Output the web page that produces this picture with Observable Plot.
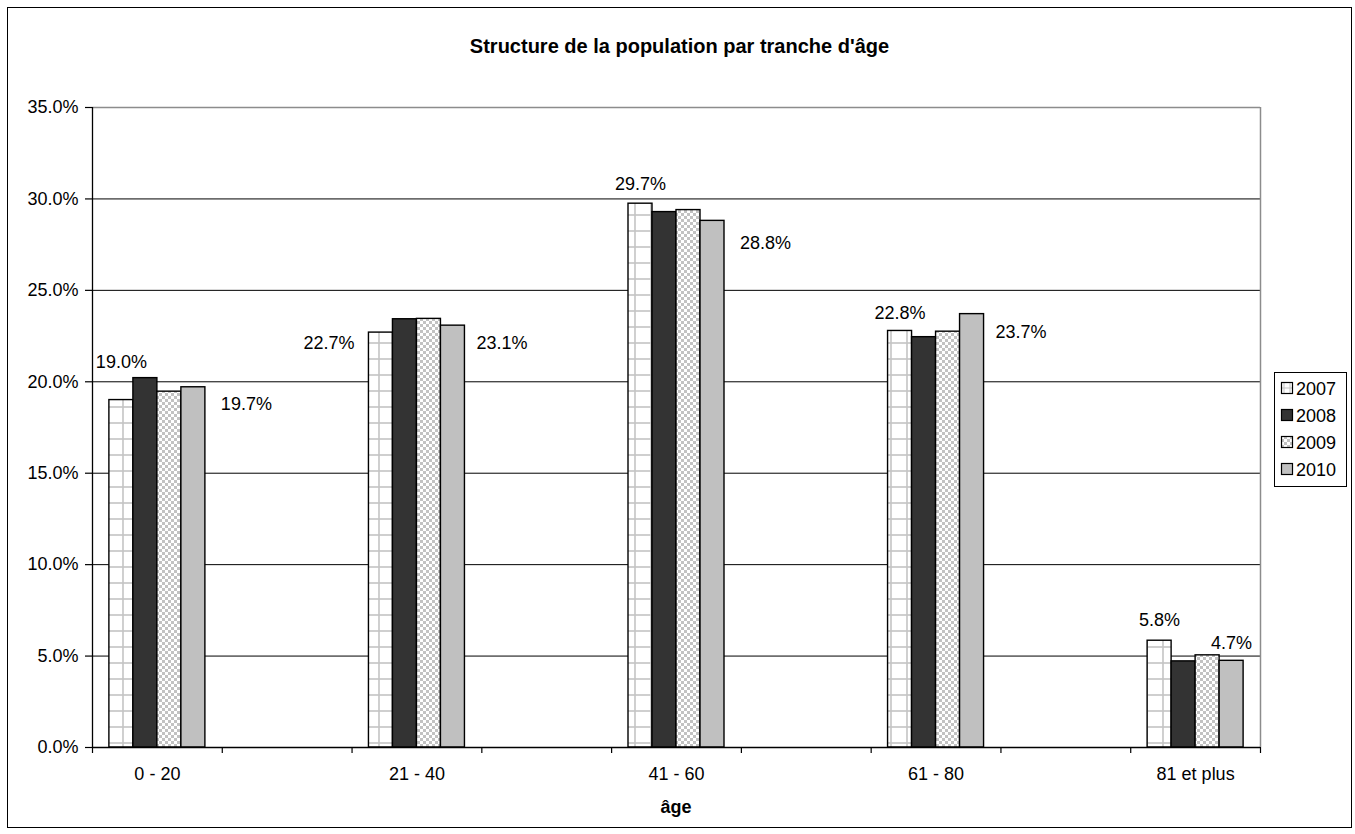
<!DOCTYPE html>
<html>
<head>
<meta charset="utf-8">
<script src="https://cdn.jsdelivr.net/npm/d3@7"></script>
<script src="https://cdn.jsdelivr.net/npm/@observablehq/plot@0.6"></script>
<style>
  html, body { margin: 0; padding: 0; background: #fff; }
  body { font-family: "Liberation Sans", Arial, sans-serif; color: #000; }
  #wrap { position: relative; width: 1355px; height: 834px; overflow: hidden; }
  #chart { position: absolute; left: 0; top: 0; }
  #border { position: absolute; left: 7px; top: 7px; width: 1345px; height: 821px; border: 1px solid #000; box-sizing: border-box; pointer-events: none; }
  #title { position: absolute; left: 7px; width: 1345px; top: 35px; text-align: center; font-weight: bold; font-size: 20px; }
  #xlabel { position: absolute; left: 92px; width: 1168px; top: 797px; text-align: center; font-weight: bold; font-size: 18px; }
  #legend { position: absolute; left: 1274px; top: 372px; width: 73px; height: 115px; border: 1px solid #000; box-sizing: border-box; background: #fff; }
  #legend svg { display: block; }
</style>
</head>
<body>
<div id="wrap">
  <div id="chart"></div>
  <div id="title">Structure de la population par tranche d'âge</div>
  <div id="xlabel">âge</div>
  <div id="legend"></div>
  <div id="border"></div>
</div>
<script>
// ---- data ----
const categories = ["0 - 20", "21 - 40", "41 - 60", "61 - 80", "81 et plus"];
const years = ["2007", "2008", "2009", "2010"];
const v2007 = [19.0, 22.69, 29.74, 22.78, 5.84];
const v2008 = [20.2, 23.42, 29.28, 22.44, 4.71];
const v2009 = [19.46, 23.44, 29.39, 22.74, 5.04];
const v2010 = [19.7, 23.07, 28.8, 23.7, 4.74];
const yTicks = [0, 5, 10, 15, 20, 25, 30, 35];
const labelledYears = ["2007", "2010"];

// ---- styles ----
const fills = {
  "2007": "url(#pat2007)",
  "2008": "#333333",
  "2009": "url(#pat2009)",
  "2010": "#c0c0c0"
};
// label offsets (px) relative to the top centre of the bar, per year & category
const labelOffsets = {
  "2007": [[0, -38], [-52, 11], [0, -19], [0, -18], [0, -20]],
  "2010": [[53, 17], [49, 18], [53, 22], [49, 18], [0, -18]]
};

// ---- derived table ----
const series = [v2007, v2008, v2009, v2010];
const rows = [];
years.forEach((y, j) => categories.forEach((c, i) => rows.push({cat: c, year: y, value: series[j][i], ci: i, yi: j})));

// category axis with an empty slot between groups
const xDomain = [];
categories.forEach((c, i) => { xDomain.push(c); if (i < categories.length - 1) xDomain.push("gap" + i); });

// ---- patterns + legend (shared defs) ----
const legendDiv = document.getElementById("legend");
const ns = "http://www.w3.org/2000/svg";
let legendSvg = `<svg xmlns="${ns}" width="71" height="113">
  <defs>
    <pattern id="pat2007" patternUnits="userSpaceOnUse" width="16" height="16">
      <rect width="16" height="16" fill="#fff"/>
      <line x1="11" y1="0" x2="11" y2="16" stroke="#c4c4c4" stroke-width="1.6"/>
      <line x1="0" y1="7" x2="16" y2="7" stroke="#c4c4c4" stroke-width="1.6"/>
    </pattern>
    <pattern id="pat2009" patternUnits="userSpaceOnUse" width="6" height="6">
      <rect width="6" height="6" fill="#fff"/>
      <rect width="3" height="3" fill="#c2c2c2"/>
      <rect x="3" y="3" width="3" height="3" fill="#c2c2c2"/>
    </pattern>
    <pattern id="legpat2007" patternUnits="userSpaceOnUse" width="6" height="6">
      <rect width="6" height="6" fill="#fff"/>
      <line x1="3" y1="0" x2="3" y2="6" stroke="#c4c4c4" stroke-width="1"/>
      <line x1="0" y1="3" x2="6" y2="3" stroke="#c4c4c4" stroke-width="1"/>
    </pattern>
  </defs>`;
years.forEach((y, k) => {
  const cy = 15 + k * 27;
  const f = y === "2007" ? "url(#legpat2007)" : fills[y];
  legendSvg += `<rect x="6.5" y="${cy - 5.5}" width="11" height="11" fill="${f}" stroke="#000" stroke-width="1.2"/>`;
  legendSvg += `<text x="21" y="${cy + 6.5}" font-size="18" font-family="Liberation Sans, Arial, sans-serif" fill="#000">${y}</text>`;
});
legendSvg += `</svg>`;
legendDiv.innerHTML = legendSvg;

// ---- plot ----
const W = 1355, H = 834, mL = 92, mR = 95, mT = 107, mB = 87;
const bw = (W - mL - mR) / xDomain.length;   // width of one category slot
const barW = 24;                              // bar width
const pad = (bw - barW * years.length) / 2;    // empty space either side of a group
const first = xDomain[0], last = xDomain[xDomain.length - 1];

const marks = [
  Plot.gridY(yTicks.filter(t => t > 0 && t < 35), {stroke: "#000", strokeOpacity: 1, strokeWidth: 1}),
  Plot.ruleY([35], {stroke: "#8c8c8c", strokeWidth: 1.5}),
  // plot-area right edge (grey) and value axis line (black)
  Plot.ruleX([last], {x: d => d, y1: 0, y2: 35, dx: bw / 2, stroke: "#8c8c8c", strokeWidth: 1.5}),
];
years.forEach((y, j) => {
  marks.push(Plot.barY(rows.filter(r => r.year === y), {
    x: "cat", y: "value",
    insetLeft: pad + barW * j, insetRight: bw - pad - barW * (j + 1),
    fill: fills[y], stroke: "#000", strokeWidth: 1.4
  }));
});
marks.push(Plot.ruleX([first], {x: d => d, y1: 0, y2: 35, dx: -bw / 2, stroke: "#000", strokeWidth: 1.3}));
marks.push(Plot.ruleY([0], {stroke: "#000", strokeWidth: 1.3}));
marks.push(Plot.axisY({
  anchor: "left", ticks: yTicks, tickSize: 7, tickPadding: 7, fontSize: 18,
  tickFormat: d => d.toFixed(1) + "%", label: null, stroke: "#000", strokeWidth: 1.2
}));
marks.push(Plot.axisX({
  anchor: "bottom", ticks: categories, tickSize: 0, tickPadding: 20, fontSize: 18, label: null
}));
// category boundary ticks below the axis
marks.push(Plot.ruleX(xDomain, {x: d => d, y1: 0, y2: 0, insetBottom: -6, dx: -bw / 2, stroke: "#000", strokeWidth: 1.2}));
marks.push(Plot.ruleX([last], {x: d => d, y1: 0, y2: 0, insetBottom: -6, dx: bw / 2, stroke: "#000", strokeWidth: 1.2}));

labelledYears.forEach(y => {
  rows.filter(r => r.year === y).forEach(r => {
    const [dx, dy] = labelOffsets[y][r.ci];
    marks.push(Plot.text([r], {
      x: "cat", y: "value",
      text: d => d.value.toFixed(1) + "%",
      dx: dx + (pad + barW * (r.yi + 0.5) - bw / 2), dy, fontSize: 18, fill: "#000"
    }));
  });
});

const chart = Plot.plot({
  width: W, height: H,
  marginLeft: mL, marginRight: mR, marginTop: mT, marginBottom: mB,
  style: {fontFamily: "Liberation Sans, Arial, sans-serif", fontSize: "18px", background: "transparent", color: "#000"},
  x: {domain: xDomain, padding: 0, round: false, label: null},
  y: {domain: [0, 35], label: null},
  marks
});
document.getElementById("chart").appendChild(chart);
</script>
</body>
</html>
